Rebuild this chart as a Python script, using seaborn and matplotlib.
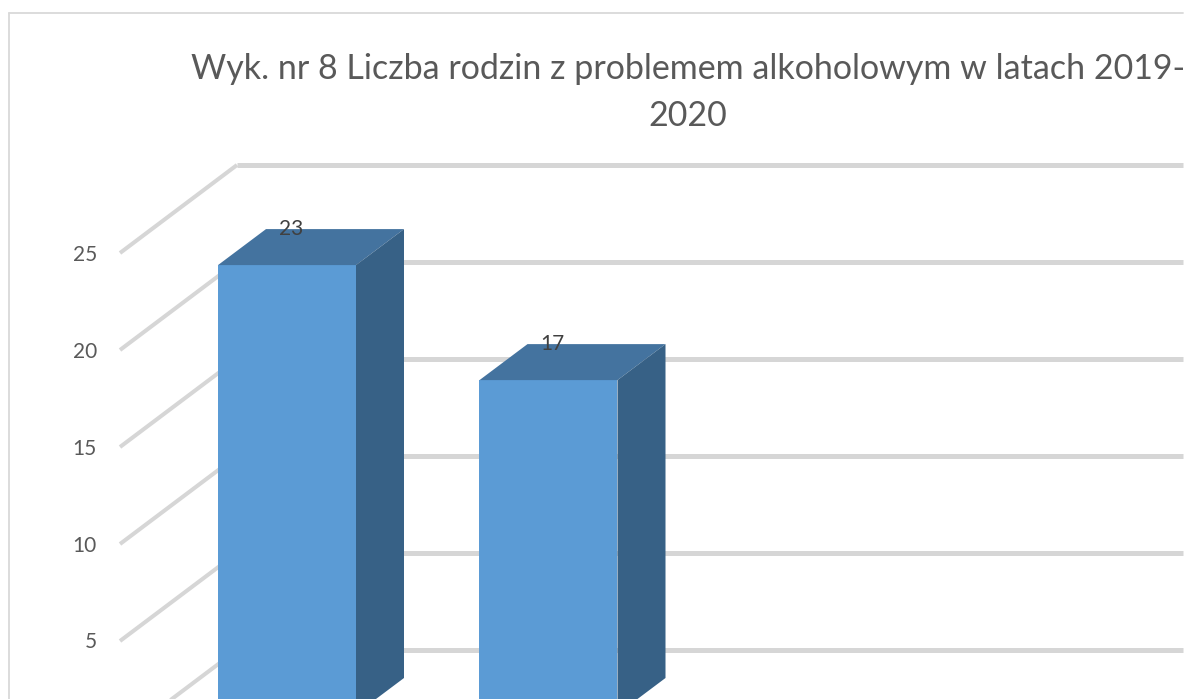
import matplotlib
matplotlib.use("Agg")
import matplotlib.pyplot as plt
from matplotlib.lines import Line2D
import pandas as pd
import seaborn as sns

# --- data ---
years = ["2019", "2020"]
families = [23, 17]
axis_ticks = [0, 5, 10, 15, 20, 25]
title_lines = ["Wyk. nr 8 Liczba rodzin z problemem alkoholowym w latach 2019-", "2020"]

# --- geometry (pixels of the 1187x699 canvas) ---
W, H = 1187, 699
PX_CAT, PX_VAL = 261.5, 19.17    # pixels per category step / per value unit on the bar plane
X0_PX, Y0_PX = 287.0, 706.0      # first bar centre / bar-plane baseline
PX_GRID = 19.4                   # pixels per value unit on the walls
BAR_W = 138.0 / PX_CAT
D_X, D_Y = 48.0 / PX_CAT, 36.0 / PX_VAL   # bar depth

sns.set_theme(style="white")
plt.rcParams["font.family"] = ["Lato", "DejaVu Sans"]

fig = plt.figure(figsize=(W / 100, H / 100), dpi=100, facecolor="white")
ax = fig.add_axes([0, 0, 1, 1])
df = pd.DataFrame({"rok": years, "rodziny": families})
sns.barplot(data=df, x="rok", y="rodziny", order=years, color="#5B9BD5", saturation=1,
            width=BAR_W, ax=ax, zorder=5, linewidth=0)
ax.set_xlim(-X0_PX / PX_CAT, (W - X0_PX) / PX_CAT)
ax.set_ylim((Y0_PX - H) / PX_VAL, Y0_PX / PX_VAL)
ax.axis("off")


def px_x(p):
    return (p - X0_PX) / PX_CAT


def px_y(p):
    return (Y0_PX - p) / PX_VAL


# chart frame: left and top edges only, the right side is cropped in the source
for xs, ys in (([9, 9], [H, 13]), ([9, 1183], [13, 13])):
    fig.add_artist(Line2D([x / W for x in xs], [1 - y / H for y in ys], color="#D9D9D9", lw=1.3, zorder=-1))

# gridlines: wall and back
GRID = "#D6D6D6"
for t in axis_ticks:
    y_front = px_y(738 - PX_GRID * t)
    y_back = px_y(650 - PX_GRID * t)
    ax.plot([px_x(120), px_x(237)], [y_front, y_back], color=GRID, lw=2.9, solid_capstyle="butt", zorder=2)
    ax.plot([px_x(237), px_x(1183)], [y_back, y_back], color=GRID, lw=3.6, solid_capstyle="butt", zorder=2)
    if t > 0:  # the 0 label falls below the cropped picture
        ax.text(px_x(97), px_y(738 - PX_GRID * t - 0.5), str(t), ha="right", va="center_baseline",
                fontsize=15, color="#595959", zorder=8)

# 3-D faces of the bars and labels
for i, v in enumerate(families):
    l, r = i - BAR_W / 2, i + BAR_W / 2
    ax.fill([l, r, r + D_X, l + D_X], [v, v, v + D_Y, v + D_Y], color="#44739F", lw=0, zorder=6)
    ax.fill([r, r + D_X, r + D_X, r], [px_y(714), px_y(678), v + D_Y, v], color="#376186", lw=0, zorder=6)
    ax.text(i + 4 / PX_CAT, v + 38 / PX_VAL, str(v), ha="center", va="center_baseline", fontsize=15,
            color="#404040", zorder=8)

ax.text(px_x(688), px_y(69), title_lines[0], ha="center", va="center", fontsize=24.5, color="#595959", zorder=8)
ax.text(px_x(688), px_y(116), title_lines[1], ha="center", va="center", fontsize=24.5, color="#595959", zorder=8)

fig.savefig("out.png", dpi=100)
